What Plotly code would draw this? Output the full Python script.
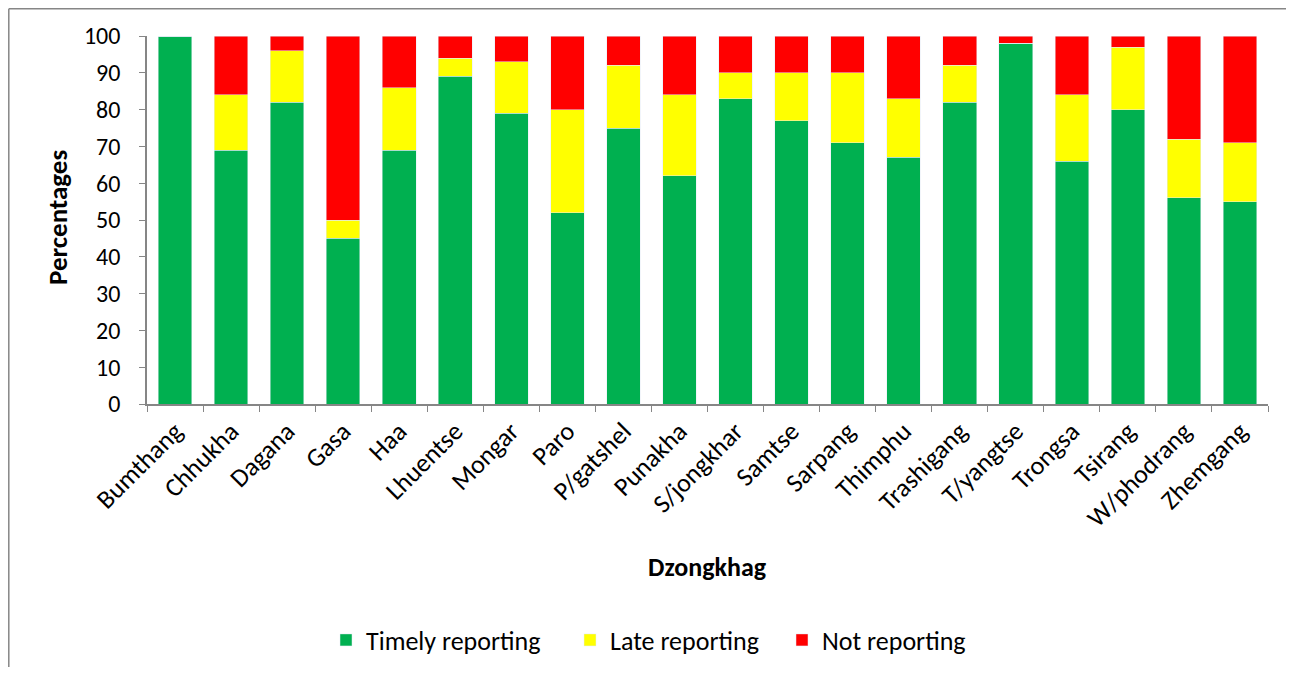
import plotly.graph_objects as go

categories = ["Bumthang", "Chhukha", "Dagana", "Gasa", "Haa", "Lhuentse", "Mongar", "Paro",
              "P/gatshel", "Punakha", "S/jongkhar", "Samtse", "Sarpang", "Thimphu",
              "Trashigang", "T/yangtse", "Trongsa", "Tsirang", "W/phodrang", "Zhemgang"]
timely = [100, 69, 82, 45, 69, 89, 79, 52, 75, 62, 83, 77, 71, 67, 82, 98, 66, 80, 56, 55]
late = [0, 15, 14, 5, 17, 5, 14, 28, 17, 22, 7, 13, 19, 16, 10, 0, 18, 17, 16, 16]
notrep = [0, 16, 4, 50, 14, 6, 7, 20, 8, 16, 10, 10, 10, 17, 8, 2, 16, 3, 28, 29]
y_ticks = [0, 10, 20, 30, 40, 50, 60, 70, 80, 90, 100]

FONT = "Carlito, Calibri, Lato, sans-serif"
AX = "#868686"

fig = go.Figure()
fig.add_bar(x=categories, y=timely, name="Timely reporting", marker_color="#00B050", legend="legend")
fig.add_bar(x=categories, y=late, name="Late reporting", marker_color="#FFFF00", legend="legend2")
fig.add_bar(x=categories, y=notrep, name="Not reporting", marker_color="#FF0000", legend="legend3")

# page is offset by the 8px body margin
OFF = 8
W, H = 1294 - 2 * OFF, 675 - 2 * OFF
L, T = 147 - OFF, 36 - OFF
R = W - (1268 - OFF)
B = H - (404 - OFF)
pw, ph = W - L - R, H - T - B

def px(x):
    return (x - OFF - L) / pw

def py(y):
    return (H - B - (y - OFF)) / ph

def leg(text_x):
    return dict(orientation="h", x=px(text_x - 40), xanchor="left", y=py(640), yanchor="middle",
                font=dict(size=26), bgcolor="rgba(0,0,0,0)")

fig.update_layout(
    width=W, height=H,
    barmode="stack", bargap=0.4,
    margin=dict(l=L, r=R, t=T, b=B, autoexpand=False),
    paper_bgcolor="white", plot_bgcolor="white",
    font=dict(family=FONT, size=22, color="black"),
    showlegend=True,
    legend=leg(366), legend2=leg(610), legend3=leg(822),
    xaxis=dict(
        type="category", tickangle=-45, tickson="boundaries", ticks="outside", ticklen=6,
        tickcolor=AX, showline=True, linecolor=AX, linewidth=1.5, showgrid=False,
        tickfont=dict(size=26),
    ),
    yaxis=dict(
        range=[0, 100], tickvals=y_ticks, ticks="outside", ticklen=6, tickcolor=AX,
        showline=True, linecolor=AX, linewidth=1.5, showgrid=False, zeroline=False,
        tickfont=dict(size=24), ticklabelstandoff=14,
    ),
    shapes=[
        dict(type="line", xref="paper", yref="paper", x0=px(8.8), x1=px(OFF + W), y0=py(8.8), y1=py(8.8),
             line=dict(color=AX, width=1.5), layer="below"),
        dict(type="line", xref="paper", yref="paper", x0=px(8.8), x1=px(8.8), y0=py(8.8), y1=py(OFF + H),
             line=dict(color=AX, width=1.5), layer="below"),
    ],
    annotations=[
        dict(text="<b>Percentages</b>", xref="paper", yref="paper", x=px(57), y=py(218),
             textangle=-90, showarrow=False, font=dict(size=27), xanchor="center", yanchor="middle"),
        dict(text="<b>Dzongkhag</b>", xref="paper", yref="paper", x=px(707), y=py(567),
             showarrow=False, font=dict(size=26), xanchor="center", yanchor="middle"),
    ],
)
fig.write_html("out.html")
